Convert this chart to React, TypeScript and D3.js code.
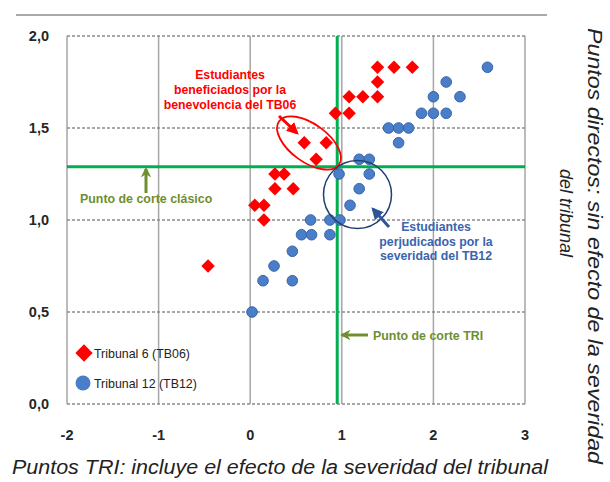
import * as d3 from 'd3';

// Tribunal 6 (TB06) - red diamonds
const tb06X = [1.39, 1.57, 1.77, 1.39, 1.08, 1.23, 1.39, 1.08, 0.93, 0.59, 0.83, 0.72, 0.27, 0.37, 0.27, 0.47, 0.05, 0.15, 0.15, -0.46];
const tb06Y = [1.83, 1.83, 1.83, 1.75, 1.67, 1.67, 1.67, 1.58, 1.58, 1.42, 1.42, 1.33, 1.25, 1.25, 1.17, 1.17, 1.08, 1.08, 1.0, 0.75];

// Tribunal 12 (TB12) - blue circles
const tb12X = [2.59, 2.14, 2.0, 2.29, 1.87, 2.0, 2.14, 1.51, 1.62, 1.73, 1.62, 1.19, 1.3, 0.97, 1.3, 1.19, 1.09, 0.66, 0.87, 0.98, 0.56, 0.67, 0.87, 0.46, 0.26, 0.14, 0.46, 0.02];
const tb12Y = [1.83, 1.75, 1.67, 1.67, 1.58, 1.58, 1.58, 1.5, 1.5, 1.5, 1.42, 1.33, 1.33, 1.25, 1.25, 1.17, 1.08, 1.0, 1.0, 1.0, 0.92, 0.92, 0.92, 0.83, 0.75, 0.67, 0.67, 0.5];

const xTicks = [-2, -1, 0, 1, 2, 3];
const yTicks = [0, 0.5, 1.0, 1.5, 2.0];

const cutClassic = 1.29;
const cutTRI = 0.95;

const RED = '#ff0000';
const BLUE = '#4a7ec8';
const OLIVE = '#6f8f2f';
const GREEN = '#00b050';

export default function App() {
  const width = 610;
  const height = 482;
  const x = d3.scaleLinear().domain([-2, 3]).range([67, 525]);
  const y = d3.scaleLinear().domain([0, 2]).range([404, 36]);

  const diamond = d3.symbol().type(d3.symbolDiamond2).size(115)();
  const legendDiamond = d3.symbol().type(d3.symbolDiamond2).size(190)();
  const font = 'Liberation Sans, Arial, sans-serif';

  return (
    <svg width={width} height={height} style={{ position: 'absolute', left: 0, top: 0, background: '#fff' }} fontFamily={font}>
      <defs>
        <marker id="arrRed" viewBox="0 0 10 10" refX="8" refY="5" markerWidth="4" markerHeight="4" orient="auto">
          <path d="M0,0 L10,5 L0,10 z" fill={RED} />
        </marker>
        <marker id="arrBlue" viewBox="0 0 10 10" refX="8" refY="5" markerWidth="4" markerHeight="4" orient="auto">
          <path d="M0,0 L10,5 L0,10 z" fill="#2e5597" />
        </marker>
        <marker id="arrOlive" viewBox="0 0 10 10" refX="8" refY="5" markerWidth="3.5" markerHeight="3.5" orient="auto">
          <path d="M0,0 L10,5 L0,10 L3,5 z" fill={OLIVE} />
        </marker>
      </defs>

      {/* top rule */}
      <line x1={16} x2={547} y1={15} y2={15} stroke="#8c8c8c" strokeWidth={1.5} />

      {/* grid */}
      {xTicks.map(t => (
        <line key={'vx' + t} x1={x(t)} x2={x(t)} y1={y(2)} y2={y(0)} stroke="#a6a6a6" strokeWidth={1.5} />
      ))}
      {yTicks.map(t => (
        <line key={'hy' + t} x1={x(-2)} x2={x(3)} y1={y(t)} y2={y(t)} stroke="#8a8a8a" strokeWidth={1.3} strokeDasharray="3,2" />
      ))}

      {/* tick labels */}
      {yTicks.map(t => (
        <text key={'yl' + t} x={49} y={y(t)} dy="0.35em" textAnchor="end" fontSize={14.5} fontWeight="bold" fill="#262626">
          {t.toFixed(1).replace('.', ',')}
        </text>
      ))}
      {xTicks.map(t => (
        <text key={'xl' + t} x={x(t)} y={435} dy="0.35em" textAnchor="middle" fontSize={14.5} fontWeight="bold" fill="#262626">
          {t}
        </text>
      ))}

      {/* cut lines */}
      <line x1={x(-2)} x2={x(3)} y1={y(cutClassic)} y2={y(cutClassic)} stroke={GREEN} strokeWidth={3} />
      <line x1={x(cutTRI)} x2={x(cutTRI)} y1={y(2)} y2={y(0)} stroke={GREEN} strokeWidth={3} />

      {/* points */}
      {tb12X.map((v, i) => (
        <circle key={'b' + i} cx={x(v)} cy={y(tb12Y[i])} r={5.3} fill={BLUE} stroke="#3565a8" strokeWidth={1} />
      ))}
      {tb06X.map((v, i) => (
        <path key={'r' + i} d={diamond || ''} transform={`translate(${x(v)},${y(tb06Y[i])})`} fill={RED} />
      ))}

      {/* red annotation */}
      <ellipse cx={309} cy={143} rx={37} ry={19} transform="rotate(36 309 143)" fill="none" stroke={RED} strokeWidth={1.8} />
      <line x1={279} y1={116} x2={297} y2={133} stroke={RED} strokeWidth={3} markerEnd="url(#arrRed)" />
      <text textAnchor="middle" fontSize={12.3} fontWeight="bold" fill={RED}>
        <tspan x={230} y={79}>Estudiantes</tspan>
        <tspan x={230} y={94}>beneficiados por la</tspan>
        <tspan x={230} y={109}>benevolencia del TB06</tspan>
      </text>

      {/* blue annotation */}
      <circle cx={357.5} cy={194.5} r={34} fill="none" stroke="#1f3f73" strokeWidth={1.5} />
      <line x1={389} y1={227} x2={373} y2={209} stroke="#2e5597" strokeWidth={3} markerEnd="url(#arrBlue)" />
      <text textAnchor="middle" fontSize={12.3} fontWeight="bold" fill="#3a64ad">
        <tspan x={436} y={231}>Estudiantes</tspan>
        <tspan x={436} y={245.5}>perjudicados por la</tspan>
        <tspan x={436} y={260}>severidad del TB12</tspan>
      </text>

      {/* cut labels */}
      <line x1={146} y1={193} x2={146} y2={169} stroke={OLIVE} strokeWidth={3} markerEnd="url(#arrOlive)" />
      <text x={80} y={203} fontSize={12.4} fontWeight="bold" fill={OLIVE}>Punto de corte clásico</text>
      <line x1={368} y1={335} x2={342} y2={335} stroke={OLIVE} strokeWidth={3} markerEnd="url(#arrOlive)" />
      <text x={373} y={339.5} fontSize={12.4} fontWeight="bold" fill={OLIVE}>Punto de corte TRI</text>

      {/* legend */}
      <path d={legendDiamond || ''} transform="translate(84,353)" fill={RED} />
      <text x={94} y={357.5} fontSize={12.4} fill="#222">Tribunal 6 (TB06)</text>
      <circle cx={83} cy={383} r={7.5} fill={BLUE} />
      <text x={94} y={387.5} fontSize={12.4} fill="#222">Tribunal 12 (TB12)</text>

      {/* axis titles */}
      <text x={12} y={474} fontSize={20} fontStyle="italic" fill="#222" textLength={536} lengthAdjust="spacingAndGlyphs">
        Puntos TRI: incluye el efecto de la severidad del tribunal
      </text>
      <text transform="translate(588,28) rotate(90)" fontSize={20} fontStyle="italic" fill="#222" textLength={436} lengthAdjust="spacingAndGlyphs">
        Puntos directos: sin efecto de la severidad
      </text>
      <text transform="translate(560,213) rotate(90)" textAnchor="middle" fontSize={18} fontStyle="italic" fill="#222">
        del tribunal
      </text>
    </svg>
  );
}
